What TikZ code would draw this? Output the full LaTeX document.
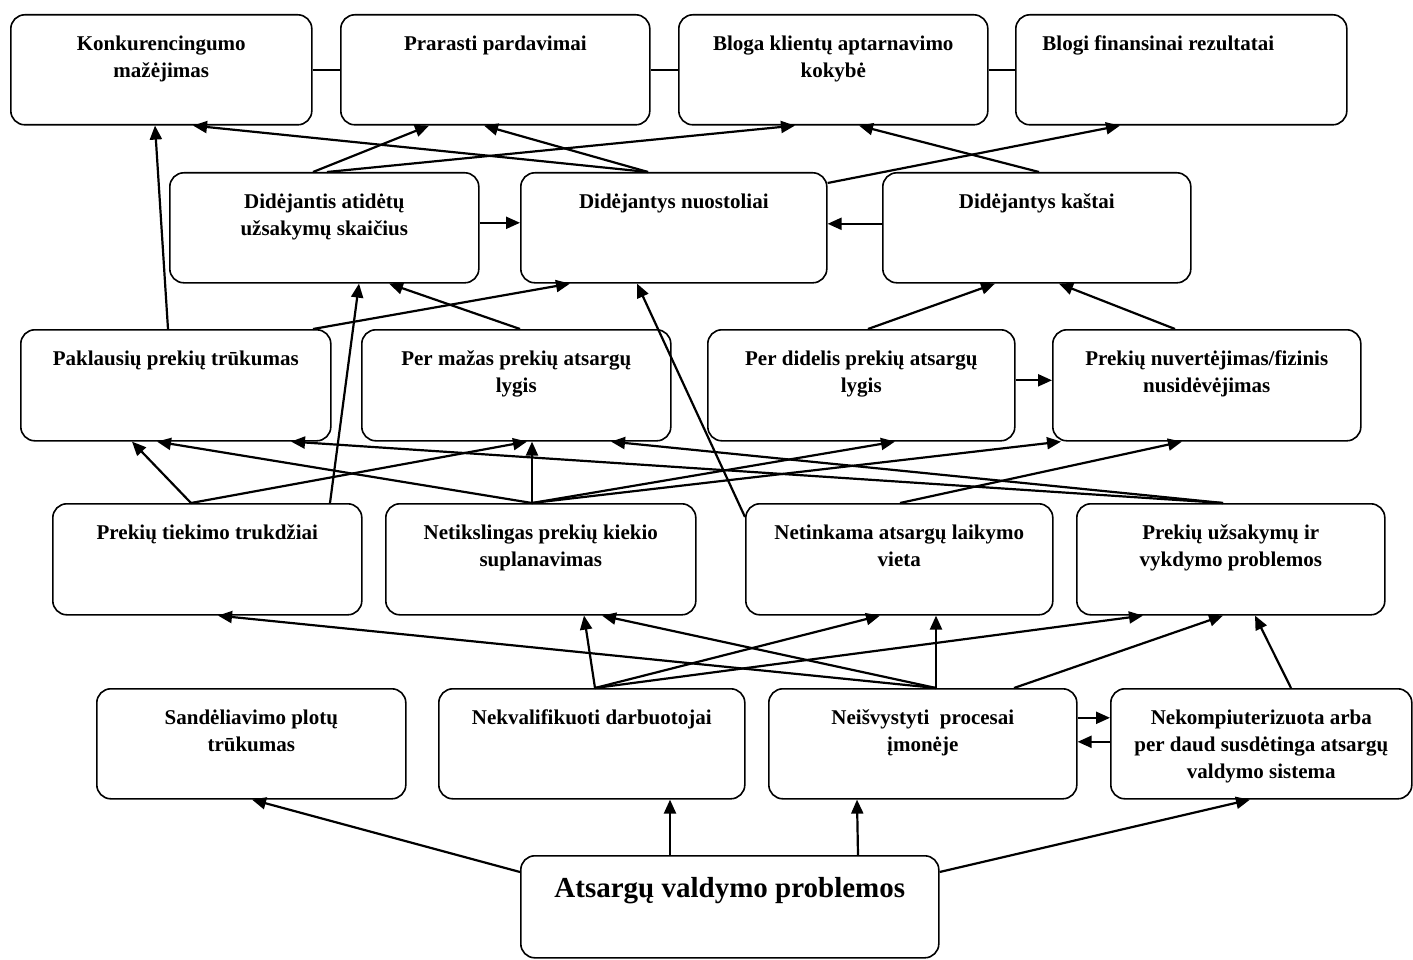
\documentclass[tikz,border=0pt]{standalone}
\usepackage{fontspec}
\setmainfont{Liberation Serif}
\usetikzlibrary{arrows.meta}
\newcommand\mkbox[7][0]{%
  \node[box, anchor=north west, minimum width={(#5-#3)*1pt}, minimum height={(#6-#4)*1pt}] (#2) at (#3,#4) {};
  \node[txt] (#2t) at ([xshift=#1pt,yshift=-17pt]#2.north) {\strut #7};}
\begin{document}
\begin{tikzpicture}[x=1pt,y=-1pt,
  box/.style={draw, line width=1.6pt, rounded corners=14pt, inner sep=0pt},
  txt/.style={font=\fontsize{21}{27}\selectfont\bfseries, align=center, inner sep=0pt, anchor=north},
  bigtxt/.style={font=\fontsize{29}{35}\selectfont\bfseries, align=center, inner sep=0pt, anchor=north},
  con/.style={line width=2.2pt, -{Triangle[length=14pt,width=12pt]}},
  link/.style={line width=1.6pt}]
\useasboundingbox (0,0) rectangle (1413,960);
% row 1
\mkbox{k1}{10}{14}{311}{124}{Konkurencingumo\\mažėjimas}
\mkbox{k2}{340}{14}{649}{124}{Prarasti pardavimai}
\mkbox{k3}{678}{14}{987}{124}{Bloga klientų aptarnavimo\\kokybė}
\mkbox[-23]{k4}{1015}{14}{1346}{124}{Blogi finansinai rezultatai}
% row 2
\mkbox{d1}{169}{172}{478}{282}{Didėjantis atidėtų\\užsakymų skaičius}
\mkbox{d2}{520}{172}{826}{282}{Didėjantys nuostoliai}
\mkbox{d3}{882}{172}{1190}{282}{Didėjantys kaštai}
% row 3
\mkbox{p1}{20}{329}{330}{440}{Paklausių prekių trūkumas}
\mkbox{p2}{361}{329}{670}{440}{Per mažas prekių atsargų\\lygis}
\mkbox{p3}{707}{329}{1014}{440}{Per didelis prekių atsargų\\lygis}
\mkbox{p4}{1052}{329}{1360}{440}{Prekių nuvertėjimas/fizinis\\nusidėvėjimas}
% row 4
\mkbox{t1}{52}{503}{361}{614}{Prekių tiekimo trukdžiai}
\mkbox{t2}{385}{503}{695}{614}{Netikslingas prekių kiekio\\suplanavimas}
\mkbox{t3}{745}{503}{1052}{614}{Netinkama atsargų laikymo\\vieta}
\mkbox{t4}{1076}{503}{1384}{614}{Prekių užsakymų ir\\vykdymo problemos}
% row 5
\mkbox{s1}{96}{688}{405}{798}{Sandėliavimo plotų\\trūkumas}
\mkbox{s2}{438}{688}{744}{798}{Nekvalifikuoti darbuotojai}
\mkbox{s3}{768}{688}{1076}{798}{Neišvystyti\ \ procesai\\įmonėje}
\mkbox{s4}{1110}{688}{1411}{798}{Nekompiuterizuota arba\\per daud susdėtinga atsargų\\valdymo sistema}
% root
\node[box, anchor=north west, minimum width=418pt, minimum height=102pt] (a) at (520,855) {};
\node[bigtxt] (at) at ([yshift=-17.5pt]a.north) {\strut Atsargų valdymo problemos};
% top links
\draw[link] (k1.east) -- (k2.west);
\draw[link] (k2.east) -- (k3.west);
\draw[link] (k3.east) -- (k4.west);
% row2 -> row1
\draw[con] ([xshift=144pt]d1.north west) -- ([xshift=89pt]k2.south west);
\draw[con] ([xshift=158pt]d1.north west) -- ([xshift=117pt]k3.south west);
\draw[con] ([xshift=128pt]d2.north west) -- ([xshift=183pt]k1.south west);
\draw[con] ([xshift=128pt]d2.north west) -- ([xshift=144pt]k2.south west);
\draw[con] ([yshift=-11pt]d2.north east) -- ([xshift=105pt]k4.south west);
\draw[con] ([xshift=157pt]d3.north west) -- ([xshift=181pt]k3.south west);
\draw[con] ([xshift=148pt]p1.north west) -- ([xshift=145pt]k1.south west);
\draw[con] ([yshift=5pt]d1.east) -- ([yshift=5pt]d2.west);
\draw[con] ([yshift=4pt]d3.west) -- ([yshift=4pt]d2.east);
% row3 -> row2
\draw[con] ([xshift=293pt]p1.north west) -- ([xshift=50pt]d2.south west);
\draw[con] ([xshift=159pt]p2.north west) -- ([xshift=220pt]d1.south west);
\draw[con] ([xshift=278pt]t1.north west) -- ([xshift=190pt]d1.south west);
\draw[con] ([yshift=-14pt]t3.north west) -- ([xshift=117pt]d2.south west);
\draw[con] ([xshift=161pt]p3.north west) -- ([xshift=113pt]d3.south west);
\draw[con] ([xshift=123pt]p4.north west) -- ([xshift=177pt]d3.south west);
\draw[con] ([yshift=5pt]p3.east) -- ([yshift=5pt]p4.west);
% row4 -> row3
\draw[con] ([xshift=139pt]t1.north west) -- ([xshift=112pt]p1.south west);
\draw[con] ([xshift=139pt]t1.north west) -- ([xshift=166pt]p2.south west);
\draw[con] ([xshift=147pt]t2.north west) -- ([xshift=137pt]p1.south west);
\draw[con] ([xshift=147pt]t2.north west) -- ([xshift=171pt]p2.south west);
\draw[con] ([xshift=147pt]t2.north west) -- ([xshift=188pt]p3.south west);
\draw[con] ([xshift=147pt]t2.north west) -- ([xshift=9pt]p4.south west);
\draw[con] ([xshift=155pt]t3.north west) -- ([xshift=130pt]p4.south west);
\draw[con] ([xshift=147pt]t4.north west) -- ([xshift=271pt]p1.south west);
\draw[con] ([xshift=147pt]t4.north west) -- ([xshift=250pt]p2.south west);
% row5 -> row4
\draw[con] ([xshift=168pt]s3.north west) -- ([xshift=166pt]t1.south west);
\draw[con] ([xshift=168pt]s3.north west) -- ([xshift=217pt]t2.south west);
\draw[con] ([xshift=168pt]s3.north west) -- ([xshift=191pt]t3.south west);
\draw[con] ([xshift=246pt]s3.north west) -- ([xshift=147pt]t4.south west);
\draw[con] ([xshift=157pt]s2.north west) -- ([xshift=199pt]t2.south west);
\draw[con] ([xshift=157pt]s2.north west) -- ([xshift=135pt]t3.south west);
\draw[con] ([xshift=157pt]s2.north west) -- ([xshift=67pt]t4.south west);
\draw[con] ([xshift=181pt]s4.north west) -- ([xshift=179pt]t4.south west);
\draw[con] ([yshift=26pt]s3.east) -- ([yshift=26pt]s4.west);
\draw[con] ([yshift=2pt]s4.west) -- ([yshift=2pt]s3.east);
% root -> row5
\draw[con] ([yshift=-17pt]a.north west) -- ([xshift=156pt]s1.south west);
\draw[con] ([xshift=150pt]a.north west) -- ([xshift=232pt]s2.south west);
\draw[con] ([xshift=338pt]a.north west) -- ([xshift=89pt]s3.south west);
\draw[con] ([yshift=-17pt]a.north east) -- ([xshift=140pt]s4.south west);
\end{tikzpicture}
\end{document}
